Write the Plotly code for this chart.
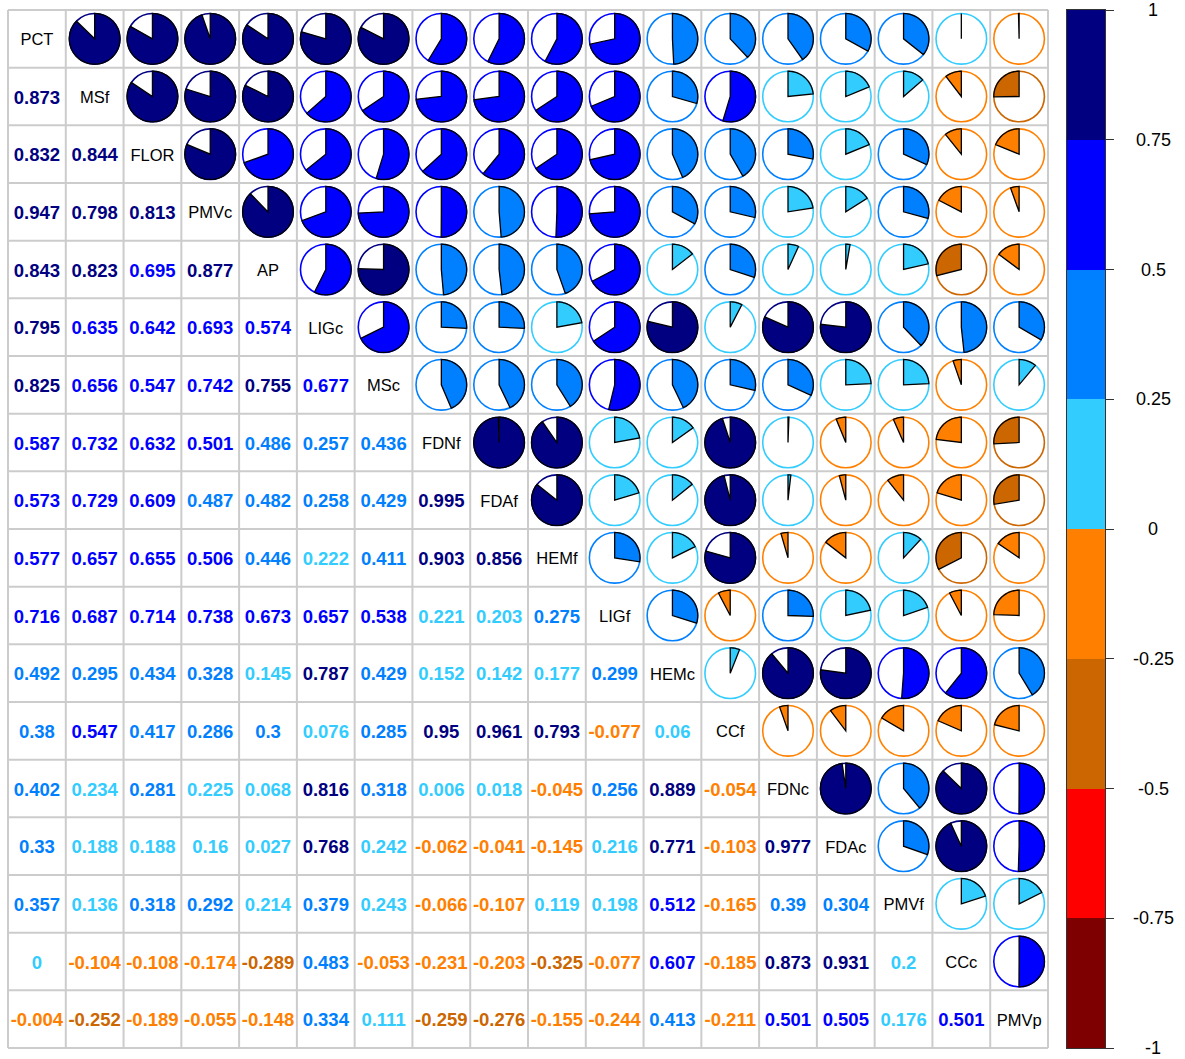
import numpy as np
import plotly.graph_objects as go

# Variables in plotting order
variables = ["PCT", "MSf", "FLOR", "PMVc", "AP", "LIGc", "MSc", "FDNf", "FDAf",
             "HEMf", "LIGf", "HEMc", "CCf", "FDNc", "FDAc", "PMVf", "CCc", "PMVp"]

# Lower-triangle correlation coefficients (row i holds r(i, j) for j < i)
lower_rows = [
    [],
    [0.873],
    [0.832, 0.844],
    [0.947, 0.798, 0.813],
    [0.843, 0.823, 0.695, 0.877],
    [0.795, 0.635, 0.642, 0.693, 0.574],
    [0.825, 0.656, 0.547, 0.742, 0.755, 0.677],
    [0.587, 0.732, 0.632, 0.501, 0.486, 0.257, 0.436],
    [0.573, 0.729, 0.609, 0.487, 0.482, 0.258, 0.429, 0.995],
    [0.577, 0.657, 0.655, 0.506, 0.446, 0.222, 0.411, 0.903, 0.856],
    [0.716, 0.687, 0.714, 0.738, 0.673, 0.657, 0.538, 0.221, 0.203, 0.275],
    [0.492, 0.295, 0.434, 0.328, 0.145, 0.787, 0.429, 0.152, 0.142, 0.177, 0.299],
    [0.38, 0.547, 0.417, 0.286, 0.3, 0.076, 0.285, 0.95, 0.961, 0.793, -0.077, 0.06],
    [0.402, 0.234, 0.281, 0.225, 0.068, 0.816, 0.318, 0.006, 0.018, -0.045, 0.256,
     0.889, -0.054],
    [0.33, 0.188, 0.188, 0.16, 0.027, 0.768, 0.242, -0.062, -0.041, -0.145, 0.216,
     0.771, -0.103, 0.977],
    [0.357, 0.136, 0.318, 0.292, 0.214, 0.379, 0.243, -0.066, -0.107, 0.119, 0.198,
     0.512, -0.165, 0.39, 0.304],
    [0, -0.104, -0.108, -0.174, -0.289, 0.483, -0.053, -0.231, -0.203, -0.325, -0.077,
     0.607, -0.185, 0.873, 0.931, 0.2],
    [-0.004, -0.252, -0.189, -0.055, -0.148, 0.334, 0.111, -0.259, -0.276, -0.155,
     -0.244, 0.413, -0.211, 0.501, 0.505, 0.176, 0.501],
]

# Eight colour classes from -1 to 1
bin_colors = ["#7F0000", "#FF0000", "#CC6600", "#FF8000",
              "#33CCFF", "#0080FF", "#0000FF", "#000080"]
legend_ticks = [-1, -0.75, -0.5, -0.25, 0, 0.25, 0.5, 0.75, 1]
legend_labels = ["-1", "-0.75", "-0.5", "-0.25", "0", "0.25", "0.5", "0.75", "1"]

n = len(variables)
corr = np.eye(n)
for i, row in enumerate(lower_rows):
    for j, v in enumerate(row):
        corr[i, j] = v
        corr[j, i] = v


def color_of(v):
    k = int(np.floor((v + 1) / 0.25))
    return bin_colors[min(max(k, 0), 7)]


def fmt(v):
    s = f"{v:.3f}".rstrip("0").rstrip(".")
    return "0" if s in ("-0", "") else s


# ---- page geometry (pixels) ----
W, H = 1185, 1059
grid_l, grid_r, grid_t, grid_b = 8, 1048, 10, 1048
cell_x = (grid_r - grid_l) / n
cell_y = (grid_b - grid_t) / n
pad = 3
bar_l, bar_r = 1067, 1105
text_drop = 2.5 / cell_y   # small baseline correction for cell text

fig = go.Figure()

# Numbers in the lower triangle
tx, ty, tt, tc = [], [], [], []
for i in range(n):
    for j in range(i):
        tx.append(j + 0.5)
        ty.append(i + 0.5 + text_drop)
        tt.append(fmt(corr[i, j]))
        tc.append(color_of(corr[i, j]))
fig.add_trace(go.Scatter(
    x=tx, y=ty, text=tt, mode="text", hoverinfo="skip", showlegend=False,
    textfont=dict(family="Liberation Sans, Arial, sans-serif", size=18.5,
                  color=tc, weight="bold"),
    xaxis="x", yaxis="y"))

# Variable names on the diagonal
fig.add_trace(go.Scatter(
    x=[k + 0.5 for k in range(n)], y=[k + 0.5 + text_drop for k in range(n)],
    text=variables, mode="text", hoverinfo="skip", showlegend=False,
    textfont=dict(family="Liberation Sans, Arial, sans-serif", size=16.5, color="#000000"),
    xaxis="x", yaxis="y"))

shapes = []
grid_col = "#CCCCCC"
for k in range(n + 1):
    shapes.append(dict(type="line", xref="x", yref="y", x0=k, x1=k, y0=0, y1=n,
                       line=dict(color=grid_col, width=2), layer="below"))
    shapes.append(dict(type="line", xref="x", yref="y", x0=0, x1=n, y0=k, y1=k,
                       line=dict(color=grid_col, width=2), layer="below"))

# Pies in the upper triangle
R_px = 25.3
rx, ry = R_px / cell_x, R_px / cell_y
for i in range(n):
    for j in range(i + 1, n):
        v = corr[i, j]
        col = color_of(v)
        cx, cy = j + 0.5, i + 0.5
        shapes.append(dict(type="circle", xref="x", yref="y",
                           x0=cx - rx, x1=cx + rx, y0=cy - ry, y1=cy + ry,
                           line=dict(color=col, width=1.6), fillcolor="white"))
        m = max(2, int(abs(v) * 120) + 1)
        ang = np.linspace(0, v * 2 * np.pi, m)
        px = cx + rx * np.sin(ang)
        py = cy - ry * np.cos(ang)
        path = f"M{cx:.4f},{cy:.4f} " + " ".join(f"L{a:.4f},{b:.4f}" for a, b in zip(px, py))
        if abs(v) > 1e-9:
            path += " Z"
        shapes.append(dict(type="path", xref="x", yref="y", path=path,
                           fillcolor=col, line=dict(color="#000000", width=1.3)))

# Colour legend bar
bar_centers = [(legend_ticks[k] + legend_ticks[k + 1]) / 2 for k in range(8)]
scale = []
for k, c in enumerate(bin_colors):
    scale.append([k / 8, c])
    scale.append([(k + 1) / 8, c])
fig.add_trace(go.Heatmap(
    x=[0], y=bar_centers, z=[[v] for v in bar_centers], zmin=-1, zmax=1,
    colorscale=scale, showscale=False, hoverinfo="skip",
    xaxis="x2", yaxis="y2"))

annotations = []
for v, lab in zip(legend_ticks, legend_labels):
    annotations.append(dict(x=1153 / W, xref="paper", y=v, yref="y2", text=lab,
                            showarrow=False, xanchor="center", yanchor="middle",
                            font=dict(family="Liberation Sans, Arial, sans-serif",
                                      size=18, color="#000000")))


def xdom(a, b):
    return [a / W, b / W]


def ydom(a, b):
    return [1 - b / H, 1 - a / H]


fig.update_layout(
    width=W, height=H,
    margin=dict(l=0, r=0, t=0, b=0),
    paper_bgcolor="white", plot_bgcolor="white",
    showlegend=False,
    shapes=shapes,
    annotations=annotations,
    xaxis=dict(domain=xdom(grid_l - pad, grid_r + pad),
               range=[-pad / cell_x, n + pad / cell_x],
               showgrid=False, zeroline=False, showticklabels=False, ticks="",
               showline=False, fixedrange=True),
    yaxis=dict(domain=ydom(grid_t - pad, grid_b + pad),
               range=[n + pad / cell_y, -pad / cell_y],
               showgrid=False, zeroline=False, showticklabels=False, ticks="",
               showline=False, fixedrange=True),
    xaxis2=dict(domain=xdom(bar_l, bar_r), range=[-0.5, 0.5], anchor="y2",
                showgrid=False, zeroline=False, showticklabels=False, ticks="",
                showline=True, mirror=True, linecolor="#333333", linewidth=1,
                fixedrange=True),
    yaxis2=dict(domain=ydom(grid_t, grid_b), range=[-1, 1], anchor="x2", side="right",
                tickvals=legend_ticks, ticks="outside", ticklen=8, tickwidth=1,
                tickcolor="#333333", showticklabels=False,
                showgrid=False, zeroline=False,
                showline=True, mirror=True, linecolor="#333333", linewidth=1,
                fixedrange=True),
)

fig.write_html("out.html")
